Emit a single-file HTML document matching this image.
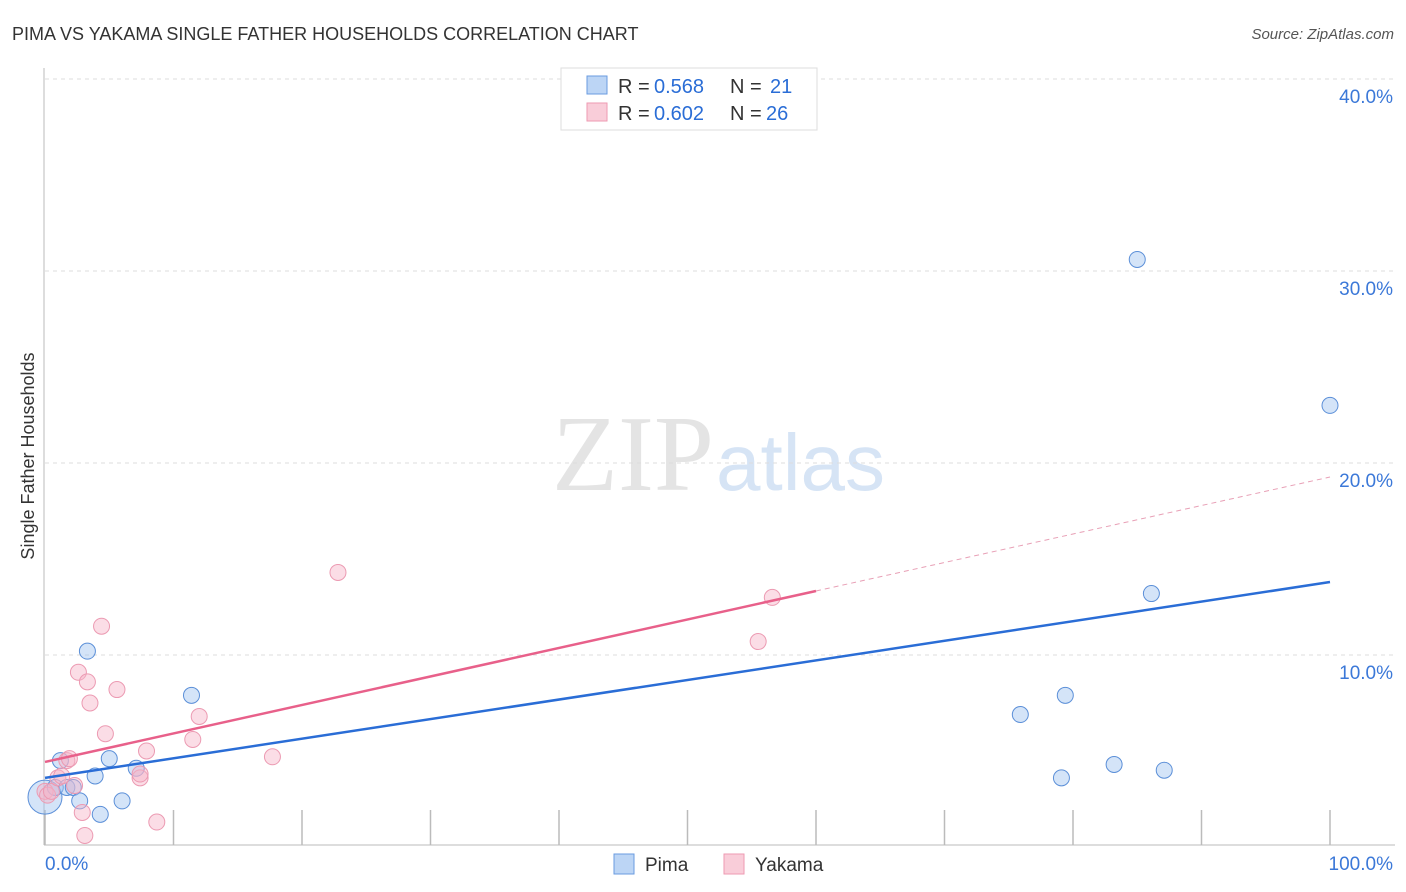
<!DOCTYPE html>
<html><head><meta charset="utf-8"><style>
body{margin:0;background:#fff;font-family:"Liberation Sans",sans-serif}
svg{display:block}
</style></head><body>
<svg width="1406" height="892" xmlns="http://www.w3.org/2000/svg">
<text x="12" y="40" font-size="18" fill="#333">PIMA VS YAKAMA SINGLE FATHER HOUSEHOLDS CORRELATION CHART</text>
<text x="1394" y="39" font-size="15" fill="#555" text-anchor="end" font-style="italic">Source: ZipAtlas.com</text>
<text x="714" y="490" font-size="108" fill="#e4e4e4" text-anchor="end" font-family="Liberation Serif,serif">ZIP</text>
<text x="716" y="490" font-size="80" fill="#d6e4f5">atlas</text>
<g id="grid"></g>
<g id="axes"></g>
<g id="marks"></g>
<text transform="translate(34,456) rotate(-90)" font-size="18" fill="#333" text-anchor="middle">Single Father Households</text>
<g>
<rect x="561" y="68" width="256" height="62" fill="#fff" stroke="#ddd"/>
<rect x="587" y="76" width="20" height="18" fill="#bcd5f5" stroke="#6a9be0"/>
<text x="618" y="93" font-size="20" fill="#333">R =</text>
<text x="654" y="93" font-size="20" fill="#2a6dd6">0.568</text>
<text x="730" y="93" font-size="20" fill="#333">N =</text>
<text x="770" y="93" font-size="20" fill="#2a6dd6">21</text>
<rect x="587" y="103" width="20" height="18" fill="#f9cdd9" stroke="#ee9ab2"/>
<text x="618" y="120" font-size="20" fill="#333">R =</text>
<text x="654" y="120" font-size="20" fill="#2a6dd6">0.602</text>
<text x="730" y="120" font-size="20" fill="#333">N =</text>
<text x="766" y="120" font-size="20" fill="#2a6dd6">26</text>
</g>
<g>
<rect x="614" y="854" width="20" height="20" fill="#bcd5f5" stroke="#6a9be0"/>
<text x="645" y="871" font-size="19" fill="#333">Pima</text>
<rect x="724" y="854" width="20" height="20" fill="#f9cdd9" stroke="#ee9ab2"/>
<text x="755" y="871" font-size="19" fill="#333">Yakama</text>
</g>
</svg>
<script>
const yTicks=[10,20,30,40];
const xTickLabels=["0.0%","100.0%"];
const pimaX=[0,0.8,1.2,1.7,2.2,2.7,3.3,3.9,4.3,5.0,6.0,7.1,11.4,75.9,79.1,79.4,83.2,85.0,86.1,87.1,100];
const pimaY=[2.6,3.1,4.5,3.1,3.1,2.4,10.2,3.7,1.7,4.6,2.4,4.1,7.9,6.9,3.6,7.9,4.3,30.6,13.2,4.0,23.0];
const yakX=[0,0.2,0.5,1.0,1.3,1.7,1.9,2.3,2.6,2.9,3.1,3.3,3.5,4.4,4.7,5.6,7.4,7.4,7.9,8.7,11.5,12.0,17.7,22.8,55.5,56.6];
const yakY=[2.9,2.7,2.9,3.6,3.7,4.5,4.6,3.2,9.1,1.8,0.6,8.6,7.5,11.5,5.9,8.2,3.6,3.8,5.0,1.3,5.6,6.8,4.7,14.3,10.7,13.0];
const pimaLine=[3.6,13.8];
const yakLine=[4.43,19.27];
const yakSolidEnd=60;
const NS="http://www.w3.org/2000/svg";
const X=v=>45+v*12.85, Y=v=>847-v*19.2;
function mk(t,a,p){const e=document.createElementNS(NS,t);for(const k in a)e.setAttribute(k,a[k]);document.getElementById(p).appendChild(e);return e;}
yTicks.forEach(t=>{
 const l=mk('line',{x1:45,x2:1395,y1:Y(t),y2:Y(t),stroke:'#ddd','stroke-dasharray':'4,4'},'grid');
 
 
 const tx=mk('text',{x:1393,y:Y(t)+24,'font-size':19,fill:'#3b78d8','text-anchor':'end'},'axes');
 tx.textContent=t.toFixed(1)+'%';
 
 
});
mk('line',{x1:44,x2:44,y1:68,y2:845,stroke:'#bbb'},'axes');
mk('line',{x1:44,x2:1395,y1:845,y2:845,stroke:'#bbb'},'axes');
for(let i=0;i<=10;i++){const t=mk('line',{x1:X(i*10),x2:X(i*10),y1:810,y2:845,stroke:'#bbb','stroke-width':1.5},'axes');
 
 }
const xl0=mk('text',{x:45,y:870,'font-size':19,fill:'#3b78d8'},'axes');xl0.textContent=xTickLabels[0];


const xl1=mk('text',{x:1393,y:870,'font-size':19,fill:'#3b78d8','text-anchor':'end'},'axes');xl1.textContent=xTickLabels[1];


pimaX.forEach((x,i)=>{const c=mk('circle',{cx:X(x),cy:Y(pimaY[i]),r:i==0?17:8,fill:'rgba(160,196,240,0.45)',stroke:'#5b8fd8','stroke-width':1},'marks');
 
 });
yakX.forEach((x,i)=>{const c=mk('circle',{cx:X(x),cy:Y(yakY[i]),r:8,fill:'rgba(246,180,200,0.45)',stroke:'#ec9ab2','stroke-width':1},'marks');
 
 });
const pl=mk('line',{x1:X(0),y1:Y(pimaLine[0]),x2:X(100),y2:Y(pimaLine[1]),stroke:'#2a6dd6','stroke-width':2.5},'marks');


const ym=yakLine[0]+(yakLine[1]-yakLine[0])*yakSolidEnd/100;
const yl=mk('line',{x1:X(0),y1:Y(yakLine[0]),x2:X(yakSolidEnd),y2:Y(ym),stroke:'#e8608a','stroke-width':2.5},'marks');


const yd=mk('line',{x1:X(yakSolidEnd),y1:Y(ym),x2:X(100),y2:Y(yakLine[1]),stroke:'#e8a0b6','stroke-width':1,'stroke-dasharray':'5,4'},'marks');


</script>
</body></html>
